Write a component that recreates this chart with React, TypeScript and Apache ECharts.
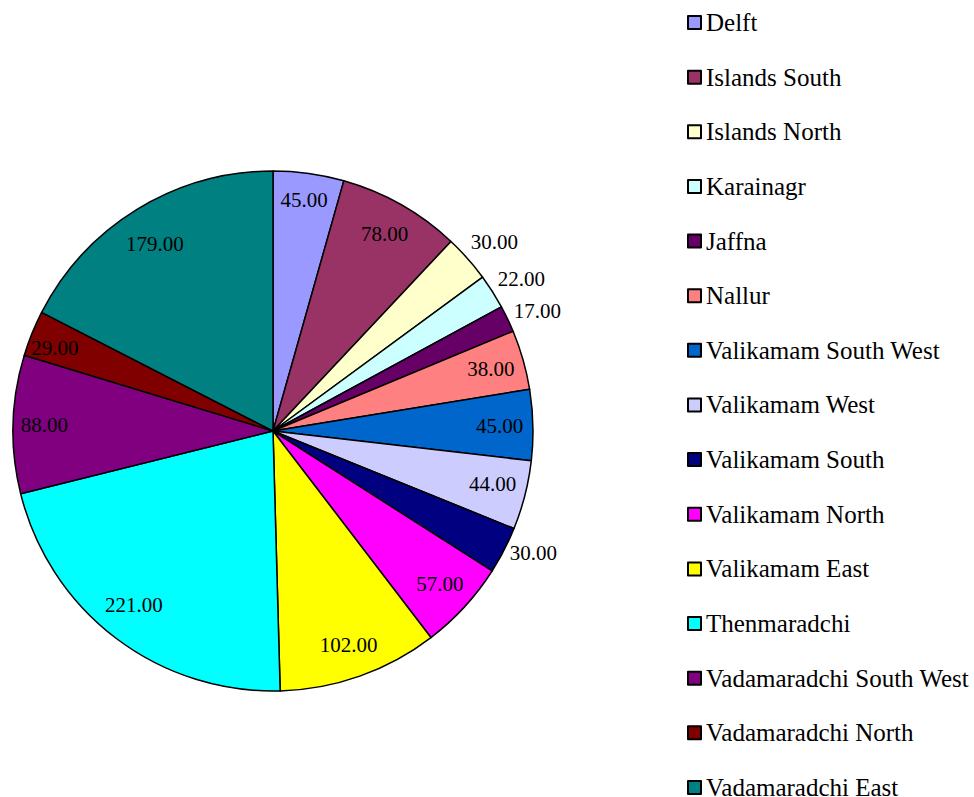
import React, { useEffect, useRef } from "react";
import * as echarts from "echarts";

const categories = [
  "Delft",
  "Islands South",
  "Islands North",
  "Karainagr",
  "Jaffna",
  "Nallur",
  "Valikamam South West",
  "Valikamam West",
  "Valikamam South",
  "Valikamam North",
  "Valikamam East",
  "Thenmaradchi",
  "Vadamaradchi South West",
  "Vadamaradchi North",
  "Vadamaradchi East",
];
const values = [45, 78, 30, 22, 17, 38, 45, 44, 30, 57, 102, 221, 88, 29, 179];
const outsideLabelNames = ["Islands North", "Karainagr", "Jaffna", "Valikamam South"];

const palette = [
  "#9999FF",
  "#993366",
  "#FFFFCC",
  "#CCFFFF",
  "#660066",
  "#FF8080",
  "#0066CC",
  "#CCCCFF",
  "#000080",
  "#FF00FF",
  "#FFFF00",
  "#00FFFF",
  "#800080",
  "#800000",
  "#008080",
];

// small nudges to mimic the reference's label placement (style, not data)
const labelNudge: Record<string, number[]> = {
  Delft: [0, -7],
  "Islands North": [2, 5],
  Karainagr: [1, 5],
  Jaffna: [0, 6],
  "Valikamam West": [0, -3],
  "Valikamam South": [0, -12],
  Thenmaradchi: [-2, -6],
  "Vadamaradchi South West": [-2, 0],
  "Vadamaradchi North": [-8, 2],
  "Vadamaradchi East": [0, 6],
};

const FONT = '"Liberation Serif", "Times New Roman", serif';

export default function App() {
  const ref = useRef<HTMLDivElement>(null);
  useEffect(() => {
    if (!ref.current) return;
    const chart = echarts.init(ref.current, undefined, { renderer: "svg" });
    const data = categories.map((name, i) => ({ name, value: values[i] }));
    const labelData = categories.map((name, i) => ({
      name,
      value: values[i],
      label: { offset: labelNudge[name] || [0, 0] },
    }));
    const center = [273, 431];
    const R = 260;
    const fmt = (p: any) => Number(p.value).toFixed(2);
    const base = {
      type: "pie" as const,
      center,
      startAngle: 90,
      clockwise: true,
      avoidLabelOverlap: false,
      silent: true,
      emphasis: { disabled: true },
      labelLine: { show: false },
    };
    const labelStyle = {
      show: true,
      position: "inside",
      rotate: 0,
      fontFamily: FONT,
      fontSize: 21,
      color: "#000",
    };
    chart.setOption({
      animation: false,
      color: palette,
      legend: {
        orient: "vertical",
        left: 687,
        top: 10,
        height: 820,
        padding: 0,
        itemWidth: 13,
        itemHeight: 13,
        itemGap: 29.64,
        icon: "rect",
        data: categories,
        selectedMode: false,
        textStyle: { fontFamily: FONT, fontSize: 25, color: "#000" },
      },
      series: [
        {
          ...base,
          name: "main",
          radius: [0, R],
          data,
          itemStyle: { borderColor: "#000", borderWidth: 1.5 },
          label: { show: false },
        },
        {
          ...base,
          name: "inner-labels",
          radius: [R * 0.72, R],
          data: labelData,
          itemStyle: { color: "transparent", borderWidth: 0 },
          label: {
            ...labelStyle,
            formatter: (p: any) => (outsideLabelNames.includes(p.name) ? "" : fmt(p)),
          },
        },
        {
          ...base,
          name: "outer-labels",
          radius: [R, R + 60],
          data: labelData,
          itemStyle: { color: "transparent", borderWidth: 0 },
          label: {
            ...labelStyle,
            formatter: (p: any) => (outsideLabelNames.includes(p.name) ? fmt(p) : ""),
          },
        },
      ],
    });
    return () => chart.dispose();
  }, []);
  return (
    <div
      ref={ref}
      style={{ position: "fixed", left: 0, top: 0, width: 974, height: 797, background: "#fff" }}
    />
  );
}
